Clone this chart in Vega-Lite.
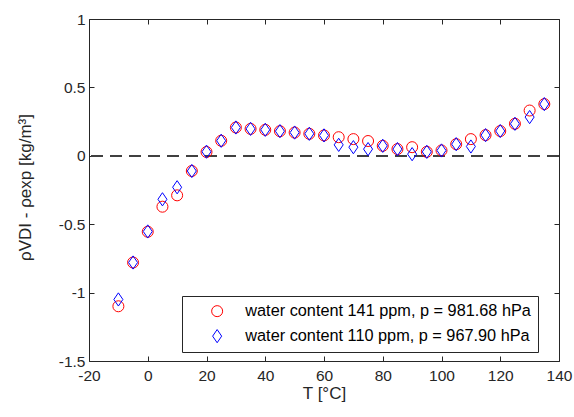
{
  "$schema": "https://vega.github.io/schema/vega-lite/v6.json",
  "width": 470,
  "height": 342,
  "autosize": {"type": "none"},
  "padding": {"left": 89, "top": 19, "right": 15, "bottom": 56},
  "background": "white",
  "config": {
    "view": {"stroke": "#262626", "strokeWidth": 1},
    "axis": {
      "domain": false,
      "grid": false,
      "ticks": true,
      "tickColor": "#262626",
      "tickSize": 5,
      "offset": -5,
      "labelFont": "Liberation Sans",
      "labelFontSize": 15.5,
      "labelColor": "#262626",
      "titleFont": "Liberation Sans",
      "titleFontSize": 17,
      "titleFontWeight": "normal",
      "titleColor": "#262626"
    },
    "legend": {
      "orient": "none", "legendX": 93, "legendY": 277, "title": null,
      "strokeColor": "#262626", "fillColor": "white", "padding": 7,
      "symbolOffset": 20, "labelOffset": 20, "rowPadding": 7,
      "symbolSize": 121, "symbolStrokeWidth": 1,
      "labelFont": "Liberation Sans", "labelFontSize": 16.3, "labelColor": "#000000", "labelLimit": 400
    }
  },
  "datasets": {
    "pts": [
      {"T": -10, "s": "water content 141 ppm, p = 981.68 hPa", "d": -1.10},
      {"T": -5, "s": "water content 141 ppm, p = 981.68 hPa", "d": -0.78},
      {"T": 0, "s": "water content 141 ppm, p = 981.68 hPa", "d": -0.555},
      {"T": 5, "s": "water content 141 ppm, p = 981.68 hPa", "d": -0.372},
      {"T": 10, "s": "water content 141 ppm, p = 981.68 hPa", "d": -0.289},
      {"T": 15, "s": "water content 141 ppm, p = 981.68 hPa", "d": -0.111},
      {"T": 20, "s": "water content 141 ppm, p = 981.68 hPa", "d": 0.028},
      {"T": 25, "s": "water content 141 ppm, p = 981.68 hPa", "d": 0.11},
      {"T": 30, "s": "water content 141 ppm, p = 981.68 hPa", "d": 0.207},
      {"T": 35, "s": "water content 141 ppm, p = 981.68 hPa", "d": 0.197},
      {"T": 40, "s": "water content 141 ppm, p = 981.68 hPa", "d": 0.19},
      {"T": 45, "s": "water content 141 ppm, p = 981.68 hPa", "d": 0.18},
      {"T": 50, "s": "water content 141 ppm, p = 981.68 hPa", "d": 0.17},
      {"T": 55, "s": "water content 141 ppm, p = 981.68 hPa", "d": 0.161},
      {"T": 60, "s": "water content 141 ppm, p = 981.68 hPa", "d": 0.149},
      {"T": 65, "s": "water content 141 ppm, p = 981.68 hPa", "d": 0.136},
      {"T": 70, "s": "water content 141 ppm, p = 981.68 hPa", "d": 0.122},
      {"T": 75, "s": "water content 141 ppm, p = 981.68 hPa", "d": 0.108},
      {"T": 80, "s": "water content 141 ppm, p = 981.68 hPa", "d": 0.073},
      {"T": 85, "s": "water content 141 ppm, p = 981.68 hPa", "d": 0.049},
      {"T": 90, "s": "water content 141 ppm, p = 981.68 hPa", "d": 0.063},
      {"T": 95, "s": "water content 141 ppm, p = 981.68 hPa", "d": 0.029},
      {"T": 100, "s": "water content 141 ppm, p = 981.68 hPa", "d": 0.039},
      {"T": 105, "s": "water content 141 ppm, p = 981.68 hPa", "d": 0.085},
      {"T": 110, "s": "water content 141 ppm, p = 981.68 hPa", "d": 0.122},
      {"T": 115, "s": "water content 141 ppm, p = 981.68 hPa", "d": 0.151},
      {"T": 120, "s": "water content 141 ppm, p = 981.68 hPa", "d": 0.181},
      {"T": 125, "s": "water content 141 ppm, p = 981.68 hPa", "d": 0.234},
      {"T": 130, "s": "water content 141 ppm, p = 981.68 hPa", "d": 0.331},
      {"T": 135, "s": "water content 141 ppm, p = 981.68 hPa", "d": 0.378},
      {"T": -10, "s": "water content 110 ppm, p = 967.90 hPa", "d": -1.05},
      {"T": -5, "s": "water content 110 ppm, p = 967.90 hPa", "d": -0.78},
      {"T": 0, "s": "water content 110 ppm, p = 967.90 hPa", "d": -0.553},
      {"T": 5, "s": "water content 110 ppm, p = 967.90 hPa", "d": -0.318},
      {"T": 10, "s": "water content 110 ppm, p = 967.90 hPa", "d": -0.23},
      {"T": 15, "s": "water content 110 ppm, p = 967.90 hPa", "d": -0.111},
      {"T": 20, "s": "water content 110 ppm, p = 967.90 hPa", "d": 0.03},
      {"T": 25, "s": "water content 110 ppm, p = 967.90 hPa", "d": 0.11},
      {"T": 30, "s": "water content 110 ppm, p = 967.90 hPa", "d": 0.207},
      {"T": 35, "s": "water content 110 ppm, p = 967.90 hPa", "d": 0.197},
      {"T": 40, "s": "water content 110 ppm, p = 967.90 hPa", "d": 0.19},
      {"T": 45, "s": "water content 110 ppm, p = 967.90 hPa", "d": 0.18},
      {"T": 50, "s": "water content 110 ppm, p = 967.90 hPa", "d": 0.17},
      {"T": 55, "s": "water content 110 ppm, p = 967.90 hPa", "d": 0.161},
      {"T": 60, "s": "water content 110 ppm, p = 967.90 hPa", "d": 0.149},
      {"T": 65, "s": "water content 110 ppm, p = 967.90 hPa", "d": 0.08},
      {"T": 70, "s": "water content 110 ppm, p = 967.90 hPa", "d": 0.063},
      {"T": 75, "s": "water content 110 ppm, p = 967.90 hPa", "d": 0.049},
      {"T": 80, "s": "water content 110 ppm, p = 967.90 hPa", "d": 0.073},
      {"T": 85, "s": "water content 110 ppm, p = 967.90 hPa", "d": 0.049},
      {"T": 90, "s": "water content 110 ppm, p = 967.90 hPa", "d": 0.012},
      {"T": 95, "s": "water content 110 ppm, p = 967.90 hPa", "d": 0.029},
      {"T": 100, "s": "water content 110 ppm, p = 967.90 hPa", "d": 0.039},
      {"T": 105, "s": "water content 110 ppm, p = 967.90 hPa", "d": 0.085},
      {"T": 110, "s": "water content 110 ppm, p = 967.90 hPa", "d": 0.068},
      {"T": 115, "s": "water content 110 ppm, p = 967.90 hPa", "d": 0.151},
      {"T": 120, "s": "water content 110 ppm, p = 967.90 hPa", "d": 0.181},
      {"T": 125, "s": "water content 110 ppm, p = 967.90 hPa", "d": 0.234},
      {"T": 130, "s": "water content 110 ppm, p = 967.90 hPa", "d": 0.283},
      {"T": 135, "s": "water content 110 ppm, p = 967.90 hPa", "d": 0.378}
    ]
  },
  "data": {"name": "pts"},
  "layer": [
    {
      "mark": {"type": "rule", "color": "#404040", "strokeWidth": 1.5, "strokeDash": [12, 7]},
      "encoding": {"y": {"datum": 0, "type": "quantitative", "scale": {"domain": [-1.5, 1], "nice": false, "zero": false}, "axis": null}}
    },
    {
      "mark": {"type": "point", "filled": false, "strokeWidth": 1, "size": 121, "opacity": 1},
      "encoding": {
        "x": {
          "field": "T", "type": "quantitative",
          "scale": {"domain": [-20, 140], "nice": false, "zero": false},
          "axis": {"orient": "bottom", "values": [-20, 0, 20, 40, 60, 80, 100, 120, 140], "labelExpr": "datum.value + ''", "labelPadding": 7, "title": "T [°C]", "titlePadding": 2, "labelFlush": false}
        },
        "y": {
          "field": "d", "type": "quantitative",
          "scale": {"domain": [-1.5, 1], "nice": false, "zero": false},
          "axis": {"orient": "left", "values": [-1.5, -1, -0.5, 0, 0.5, 1], "labelExpr": "datum.value + ''", "labelPadding": 4, "title": "ρVDI - ρexp [kg/m³]", "titlePadding": 24, "titleY": 168, "labelFlush": false}
        },
        "stroke": {
          "field": "s", "type": "nominal",
          "scale": {"domain": ["water content 141 ppm, p = 981.68 hPa", "water content 110 ppm, p = 967.90 hPa"], "range": ["#ff0000", "#0000ff"]},
          "legend": {"title": null}
        },
        "shape": {
          "field": "s", "type": "nominal",
          "scale": {"domain": ["water content 141 ppm, p = 981.68 hPa", "water content 110 ppm, p = 967.90 hPa"], "range": ["circle", "M0,-1.2L0.82,0L0,1.2L-0.82,0Z"]},
          "legend": {"title": null}
        }
      }
    },
    {
      "mark": {"type": "point", "opacity": 0},
      "encoding": {
        "x": {"field": "T", "type": "quantitative", "scale": {"domain": [-20, 140], "nice": false, "zero": false}, "axis": {"orient": "top", "values": [-20, 0, 20, 40, 60, 80, 100, 120, 140], "labels": false, "title": null}},
        "y": {"field": "d", "type": "quantitative", "scale": {"domain": [-1.5, 1], "nice": false, "zero": false}, "axis": {"orient": "right", "values": [-1.5, -1, -0.5, 0, 0.5, 1], "labels": false, "title": null}}
      }
    }
  ],
  "resolve": {"axis": {"x": "independent", "y": "independent"}}
}
